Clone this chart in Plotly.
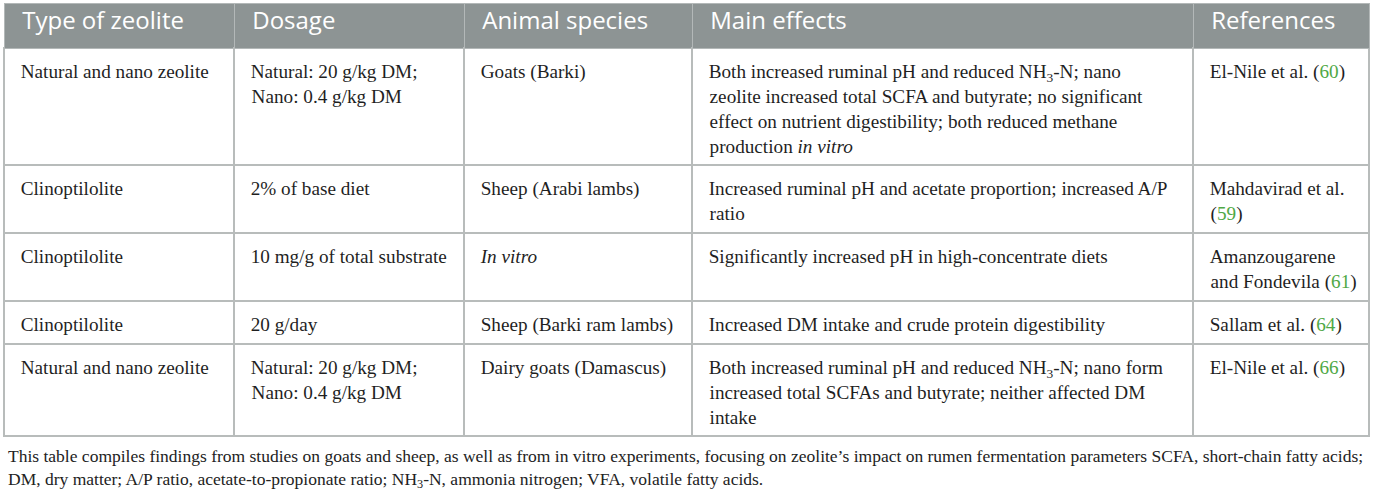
import plotly.graph_objects as go

# table content, one entry per row (each cell is a list of its wrapped lines)
headers = ["Type of zeolite", "Dosage", "Animal species", "Main effects", "References"]

zeolite_type = [
    ["Natural and nano zeolite"],
    ["Clinoptilolite"],
    ["Clinoptilolite"],
    ["Clinoptilolite"],
    ["Natural and nano zeolite"],
]
dosage = [
    ["Natural: 20 g/kg DM;", "Nano: 0.4 g/kg DM"],
    ["2% of base diet"],
    ["10 mg/g of total substrate"],
    ["20 g/day"],
    ["Natural: 20 g/kg DM;", "Nano: 0.4 g/kg DM"],
]
species = [
    ["Goats (Barki)"],
    ["Sheep (Arabi lambs)"],
    ["<i>In vitro</i>"],
    ["Sheep (Barki ram lambs)"],
    ["Dairy goats (Damascus)"],
]
effects = [
    ["Both increased ruminal pH and reduced NH<sub>3</sub>-N; nano",
     "zeolite increased total SCFA and butyrate; no significant",
     "effect on nutrient digestibility; both reduced methane",
     "production <i>in vitro</i>"],
    ["Increased ruminal pH and acetate proportion; increased A/P",
     "ratio"],
    ["Significantly increased pH in high-concentrate diets"],
    ["Increased DM intake and crude protein digestibility"],
    ["Both increased ruminal pH and reduced NH<sub>3</sub>-N; nano form",
     "increased total SCFAs and butyrate; neither affected DM",
     "intake"],
]
ref_lines = [
    ["El-Nile et al. ({})"],
    ["Mahdavirad et al.", "({})"],
    ["Amanzougarene", "and Fondevila ({})"],
    ["Sallam et al. ({})"],
    ["El-Nile et al. ({})"],
]
ref_nums = [60, 59, 61, 64, 66]

caption = [
    "This table compiles findings from studies on goats and sheep, as well as from in vitro experiments, "
    "focusing on zeolite\u2019s impact on rumen fermentation parameters SCFA, short-chain fatty acids;",
    "DM, dry matter; A/P ratio, acetate-to-propionate ratio; NH<sub>3</sub>-N, ammonia nitrogen; "
    "VFA, volatile fatty acids.",
]

GREEN = "#4fa845"
NB = "\u00a0"
LINK = "https://www.frontiersin.org/"
# a raised, invisible blank at the start of the first line gives the text its top room;
# attributes are written without a space so the table's word splitting leaves the tags whole
CELL_LIFT = f"<sup><a href='{LINK}'style='font-size:15.6px'>{NB}</a></sup>"


def cell(lines, num=None):
    out = [NB * 2 + s for s in lines]
    out[0] = CELL_LIFT + NB + lines[0]
    text = "<br>".join(out)
    if num is not None:
        text = text.replace("{}", f"<a href='{LINK}'style='color:{GREEN}'>{num}</a>")
    return text


cell_values = [
    [cell(c) for c in zeolite_type],
    [cell(c) for c in dosage],
    [cell(c) for c in species],
    [cell(c) for c in effects],
    [cell(c, n) for c, n in zip(ref_lines, ref_nums)],
]

fig = go.Figure()
fig.add_trace(go.Table(
    domain=dict(x=[4 / 1375, 1369 / 1375], y=[0, 1 - 3 / 496]),
    columnwidth=[230, 230, 228, 501, 176],
    header=dict(
        values=[NB + "\u2009" + h for h in headers],
        fill_color="#8d9494",
        line=dict(color="#b3b8b8", width=1),
        font=dict(family="Open Sans", size=24, color="white"),
        align="left",
        height=45,
    ),
    cells=dict(
        values=cell_values,
        fill_color="white",
        line=dict(color="#b8bcbb", width=1.5),
        font=dict(family="Liberation Serif", size=19.2, color="#1f1f1f"),
        align="left",
        height=43,
    ),
))

fig.add_annotation(
    text="<br>".join(caption),
    xref="paper", yref="paper",
    x=6 / 1375, y=1 - 444 / 496,
    xanchor="left", yanchor="top",
    align="left", showarrow=False,
    font=dict(family="Liberation Serif", size=17.5, color="#222222"),
)

fig.update_layout(
    width=1375, height=496,
    margin=dict(l=0, r=0, t=0, b=0),
    paper_bgcolor="white",
    plot_bgcolor="white",
)

fig.write_html(
    "out.html",
    config={"displayModeBar": False},
    post_script="document.body.style.margin = '0';",
)
